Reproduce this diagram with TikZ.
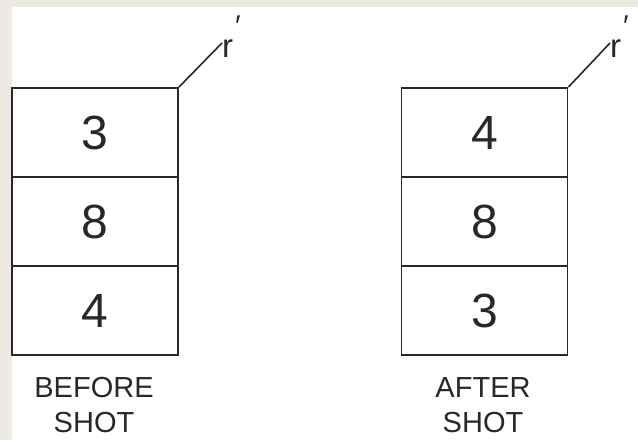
\documentclass[tikz,border=0pt]{standalone}
\usepackage{fontspec}
\setmainfont{Liberation Sans}
\definecolor{paper}{RGB}{237,234,228}
\definecolor{ink}{RGB}{40,40,40}
\newcommand{\rprime}{r\kern2pt\raisebox{0.62em}{\fontsize{30}{30}\selectfont\char"2032}}
\begin{document}
\begin{tikzpicture}[
    x=1pt, y=-1pt,
    cell/.style={rectangle, draw=ink, line width=1.8pt, minimum width=166pt, minimum height=89pt, inner sep=0pt, text=ink, font=\fontsize{48}{50}\selectfont},
    caption/.style={align=center, text=ink, inner sep=0pt, font=\fontsize{29}{35}\selectfont},
    rlabel/.style={anchor=base west, inner sep=0pt, text=ink, font=\fontsize{33}{34}\selectfont},
    lead/.style={draw=ink, line width=1.6pt}
  ]
    % Background
    \fill[paper] (0,0) rectangle (638,440);
    \fill[white] (12,7) rectangle (638,440);
    \useasboundingbox (0,0) rectangle (638,440);

    % Before shot
    \node[cell] (b1) at (95,132.5) {3};
    \node[cell] (b2) at (95,221.5) {8};
    \node[cell] (b3) at (95,310.5) {4};
    \node[caption] (bcap) at (94,405.5) {BEFORE\\SHOT};
    \node[rlabel] (br) at (222,57) {\rprime};
    \coordinate (bt) at (222,43);
    \draw[lead] (b1.north east) -- (bt);

    % After shot
    \node[cell] (a1) at (484.5,132.5) {4};
    \node[cell] (a2) at (484.5,221.5) {8};
    \node[cell] (a3) at (484.5,310.5) {3};
    \node[caption] (acap) at (483,405.5) {AFTER\\SHOT};
    \node[rlabel] (ar) at (610,57) {\rprime};
    \coordinate (at) at (610,43);
    \draw[lead] (a1.north east) -- (at);
\end{tikzpicture}
\end{document}
